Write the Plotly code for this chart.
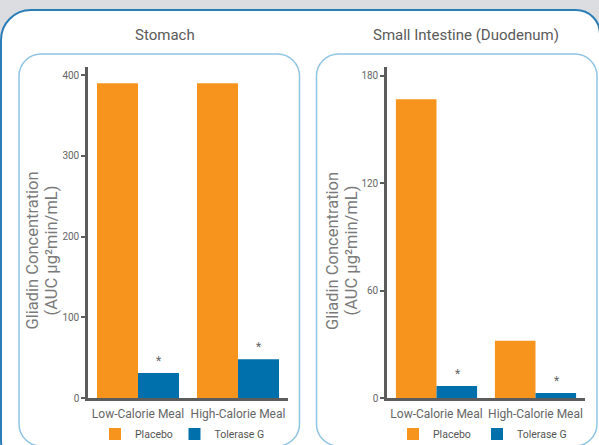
import plotly.graph_objects as go

# ---------------- data ----------------
categories = ["Low-Calorie Meal", "High-Calorie Meal"]
stomach_placebo = [390, 390]
stomach_tolerase = [31, 48]
duodenum_placebo = [167, 32]
duodenum_tolerase = [6.7, 2.8]
panel_titles = ["Stomach", "Small Intestine (Duodenum)"]
series_names = ["Placebo", "Tolerase G"]
stomach_ticks = [0, 100, 200, 300, 400]
duodenum_ticks = [0, 60, 120, 180]
y_title_lines = ["Gliadin Concentration", "(AUC µg²min/mL)"]

W, H = 599, 445
ORANGE = "#f7941d"
BLUE = "#0070ad"
FONT = "Roboto"


def px(x):
    return x / W


def py(y):
    return 1 - y / H


def rrect(x0, y0, x1, y1, r_tl, r_tr, r_br, r_bl):
    k = 0.5523
    def P(x, y):
        return f"{px(x):.5f},{py(y):.5f}"
    d = f"M {P(x0 + r_tl, y0)} L {P(x1 - r_tr, y0)} "
    d += f"C {P(x1 - r_tr + k * r_tr, y0)} {P(x1, y0 + r_tr - k * r_tr)} {P(x1, y0 + r_tr)} "
    d += f"L {P(x1, y1 - r_br)} "
    d += f"C {P(x1, y1 - r_br + k * r_br)} {P(x1 - r_br + k * r_br, y1)} {P(x1 - r_br, y1)} "
    d += f"L {P(x0 + r_bl, y1)} "
    d += f"C {P(x0 + r_bl - k * r_bl, y1)} {P(x0, y1 - r_bl + k * r_bl)} {P(x0, y1 - r_bl)} "
    d += f"L {P(x0, y0 + r_tl)} "
    d += f"C {P(x0, y0 + r_tl - k * r_tl)} {P(x0 + r_tl - k * r_tl, y0)} {P(x0 + r_tl, y0)} Z"
    return d


fig = go.Figure()

panels = [
    (stomach_placebo, stomach_tolerase, "x", "y", "legend"),
    (duodenum_placebo, duodenum_tolerase, "x2", "y2", "legend2"),
]
for plac, tol, xa, ya, lg in panels:
    fig.add_trace(go.Bar(x=categories, y=plac, name=series_names[0], marker_color=ORANGE,
                         xaxis=xa, yaxis=ya, legend=lg, marker_line_width=0))
    fig.add_trace(go.Bar(x=categories, y=tol, name=series_names[1], marker_color=BLUE,
                         xaxis=xa, yaxis=ya, legend=lg, marker_line_width=0, legendwidth=70))

axis_line = "#5c5c5c"
common_x = dict(type="category", range=[-0.5, 1.5], showline=True, linecolor=axis_line,
                linewidth=2.5, ticks="", showgrid=False, zeroline=False,
                tickfont=dict(family=FONT, size=12, color="#666666"), ticklabelstandoff=3)
common_y = dict(showline=True, linecolor=axis_line, linewidth=2.5, ticks="outside",
                ticklen=4, tickwidth=2, tickcolor=axis_line, showgrid=False, zeroline=False,
                tickfont=dict(family=FONT, size=10, color="#666666"))

y_dom = [py(398), py(67)]

fig.update_layout(
    width=W, height=H,
    margin=dict(l=0, r=0, t=0, b=0, autoexpand=False),
    paper_bgcolor="#dcdde0",
    plot_bgcolor="rgba(0,0,0,0)",
    barmode="group", bargap=0.18, bargroupgap=0,
    font=dict(family=FONT),
    xaxis=dict(domain=[px(88), px(288)], anchor="y", **common_x),
    yaxis=dict(domain=y_dom, anchor="x", range=[0, 410], tickvals=stomach_ticks, **common_y),
    xaxis2=dict(domain=[px(387), px(585)], anchor="y2", **common_x),
    yaxis2=dict(domain=y_dom, anchor="x2", range=[0, 185], tickvals=duodenum_ticks, **common_y),
    legend=dict(orientation="h", x=px(95), xanchor="left", y=py(434), yanchor="middle",
                entrywidth=34.5, entrywidthmode="pixels", bgcolor="rgba(0,0,0,0)",
                font=dict(family=FONT, size=10.5, color="#555555")),
    legend2=dict(orientation="h", x=px(393), xanchor="left", y=py(434), yanchor="middle",
                 entrywidth=39, entrywidthmode="pixels", bgcolor="rgba(0,0,0,0)",
                 font=dict(family=FONT, size=10.5, color="#555555")),
)

shapes = [
    dict(type="path", xref="paper", yref="paper", layer="below",
         path=rrect(1, 10, 600, 470, 30, 24, 24, 30),
         fillcolor="white", line=dict(color="#2b7db8", width=2)),
    dict(type="path", xref="paper", yref="paper", layer="below",
         path=rrect(19, 54, 299.5, 446, 22, 22, 22, 22),
         fillcolor="white", line=dict(color="#8fc5e3", width=1.5)),
    dict(type="path", xref="paper", yref="paper", layer="below",
         path=rrect(316.5, 54, 597, 446, 22, 22, 22, 22),
         fillcolor="white", line=dict(color="#8fc5e3", width=1.5)),
]
fig.update_layout(shapes=shapes)

annotations = []
# panel titles
for title, cx in zip(panel_titles, [165, 466]):
    annotations.append(dict(text=title, xref="paper", yref="paper", x=px(cx), y=py(34.5),
                            xanchor="center", yanchor="middle", showarrow=False,
                            font=dict(family=FONT, size=15, color="#5a5a5a")))
# y-axis titles (two lines each)
for xs in [(31.5, 50.5), (332, 350.5)]:
    for line, cx in zip(y_title_lines, xs):
        annotations.append(dict(text=line, xref="paper", yref="paper", x=px(cx), y=py(251),
                                xanchor="center", yanchor="middle", showarrow=False,
                                textangle=-90,
                                font=dict(family=FONT, size=16.5, color="#7a7a7a")))
# significance stars above Tolerase G bars
for tol, xa, ya in [(stomach_tolerase, "x", "y"), (duodenum_tolerase, "x2", "y2")]:
    for cat, v in zip(categories, tol):
        annotations.append(dict(text="*", xref=xa, yref=ya, x=cat, y=v, xshift=20.5, yshift=3,
                                xanchor="center", yanchor="bottom", showarrow=False,
                                font=dict(family=FONT, size=12, color="#666666")))
fig.update_layout(annotations=annotations)

fig.write_html("out.html", config={"displayModeBar": False},
               post_script="document.body.style.margin='0';document.body.style.overflow='hidden';")
